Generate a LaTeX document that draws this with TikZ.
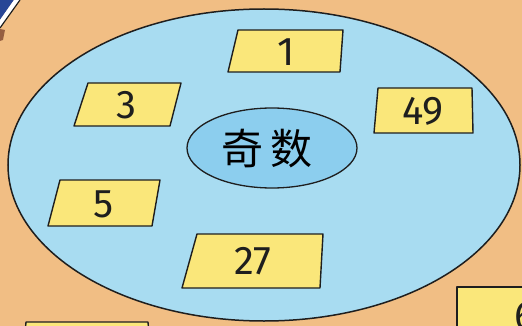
\documentclass[tikz,border=0pt]{standalone}
\usepackage{fontspec}
\setmainfont{Fira Sans}
\newfontfamily\cjk{Noto Sans CJK SC}
\definecolor{bgtan}{RGB}{241,190,132}
\definecolor{setblue}{RGB}{168,220,241}
\definecolor{innerblue}{RGB}{140,206,238}
\definecolor{cardyellow}{RGB}{250,231,122}
\definecolor{inkline}{RGB}{30,30,30}
\definecolor{deepblue}{RGB}{40,70,150}
\definecolor{bookbrown}{RGB}{150,95,65}
\tikzset{
  card/.style={draw=inkline, line width=1.4pt, fill=cardyellow, line join=round},
  num/.style={font=\fontsize{40}{40}\selectfont, text=inkline, inner sep=0pt},
  setline/.style={draw=inkline, line width=1.5pt}
}
\begin{document}
\begin{tikzpicture}[x=1pt,y=-1pt]
\useasboundingbox (0,0) rectangle (522,326);
\fill[bgtan] (0,0) rectangle (522,326);
% corner object top-left
\fill[deepblue] (0,0) -- (14,0) -- (0,20) -- cycle;
\fill[white] (14,0) -- (20,0) -- (0,28) -- (0,20) -- cycle;
\draw[inkline, line width=1.2pt] (20,0) -- (0,28);
\fill[bookbrown] (0,29) -- (5,30) -- (3,40) -- (0,41) -- cycle;
% big set ellipse
\path[setline, fill=setblue] (264,165) ellipse [x radius=256, y radius=156];
% inner ellipse
\path[setline, fill=innerblue, line width=1.3pt] (272,148) ellipse [x radius=85, y radius=40];
\node (title) at (267,149) {\cjk\fontsize{42}{42}\selectfont 奇\hspace{8pt}数};
% cards
\draw[card] (238,30) -- (343,30) -- (340,72) -- (228,72) -- cycle;
\node[num] (n1) at (286,52) {1};
\draw[card] (88,83) -- (181,83) -- (170,126) -- (74,126) -- cycle;
\node[num] (n3) at (126,105) {3};
\draw[card] (378,88) -- (472,88) -- (473,133) -- (374,133) -- cycle;
\node[num] (n49) at (423,111) {49};
\draw[card] (60,180) -- (160,180) -- (152,226) -- (48,226) -- cycle;
\node[num] (n5) at (104,204) {5};
\draw[card] (197,234) -- (323,234) -- (320,288) -- (182,288) -- cycle;
\node[num] (n27) at (253,261) {27};
% partial cards outside
\draw[card] (26,322) -- (148,322) -- (149,334) -- (25,334) -- cycle;
\draw[card] (457,287) -- (530,287) -- (530,340) -- (457,340) -- cycle;
\begin{scope}
\clip (0,0) rectangle (522,326);
\node[num, anchor=north west] (n6) at (514,302) {6};
\end{scope}
\end{tikzpicture}
\end{document}
